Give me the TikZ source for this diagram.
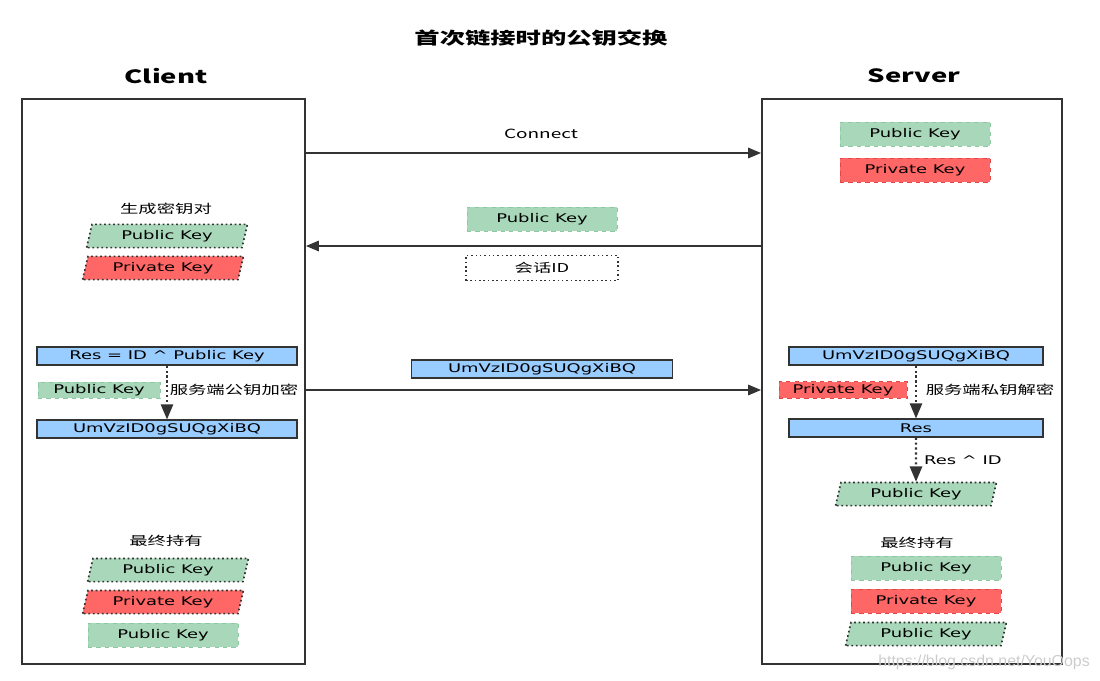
\documentclass[tikz,border=0pt]{standalone}
\usepackage{fontspec}
\setmainfont{DejaVu Sans}[FakeStretch=1.5]
\newfontfamily\cjk{Noto Sans CJK SC}[FakeStretch=1.5]
\newfontfamily\wmfont{Liberation Sans}
\usepackage{xcolor}
\usepackage{tikz}
\usetikzlibrary{shapes.geometric, arrows}

\definecolor{keygreen}{HTML}{A8D8B9}
\definecolor{keygreenline}{HTML}{8CC9A2}
\definecolor{keyred}{HTML}{FF6666}
\definecolor{keyredline}{HTML}{E04848}
\definecolor{resblue}{HTML}{99CCFF}
\definecolor{ink}{HTML}{333333}

\tikzset{
  keyfont/.style={font=\fontsize{8.5}{10}\selectfont, text=black},
  pubkey/.style={keyfont, draw=keygreenline, fill=keygreen, dashed, line width=0.6pt,
    minimum width=3.75cm, minimum height=0.6cm, inner sep=0pt},
  privkey/.style={pubkey, draw=keyredline, fill=keyred},
  keypar/.style={keyfont, trapezium, trapezium left angle=65, trapezium right angle=115,
    trapezium stretches body, draw=ink, dotted, line width=1.2pt,
    minimum width=4.02cm, minimum height=0.58cm, inner sep=0pt},
  resbox/.style={keyfont, draw=ink, fill=resblue, line width=1.2pt,
    minimum width=6.5cm, minimum height=0.44cm, inner sep=0pt},
  idbox/.style={draw=ink, dotted, line width=1.1pt, minimum width=3.8cm, minimum height=0.63cm},
  side/.style={draw=ink, line width=1.4pt},
  hdr/.style={font=\cjk\bfseries\fontsize{13}{15}\selectfont, text=black},
  lbl/.style={font=\cjk\fontsize{9}{11}\selectfont, text=black},
  cjklbl/.style={font=\cjk\fontsize{8.7}{10}\selectfont, text=black, inner sep=1pt},
  flow/.style={draw=ink, line width=1.1pt, -triangle 45},
  dotflow/.style={draw=ink, line width=1.5pt, dotted, -triangle 45}
}

\begin{document}
\begin{tikzpicture}[x=0.025cm, y=-0.025cm]
    \useasboundingbox (0,0) rectangle (1100,680);

    % titles
    \node[font=\cjk\bfseries\fontsize{12}{14}\selectfont] (T) at (541,38) {首次链接时的公钥交换};
    \node[hdr] (CT) at (166,76) {Client};
    \node[hdr] (ST) at (914,76) {Server};

    % the two sides
    \node[side, minimum width=7.075cm, minimum height=14.125cm] (C) at (163.5,381.5) {};
    \node[side, minimum width=7.5cm, minimum height=14.125cm] (S) at (912,381.5) {};

    % connect
    \node[pubkey] (SK1) at (915,134) {Public Key};
    \node[privkey] (SK2) at (915,170) {Private Key};
    \node[lbl] (L1) at (541,134) {Connect};
    \coordinate (c1) at (541,153);
    \draw[flow] (C.east |- c1) -- (S.west |- c1);

    % key pair on client
    \node[cjklbl] (G) at (166,209) {生成密钥对};
    \node[keypar, fill=keygreen] (CK1) at (167,236) {Public Key};
    \node[keypar, fill=keyred] (CK2) at (163,268) {Private Key};

    % server sends public key
    \node[pubkey] (MK) at (542,219) {Public Key};
    \coordinate (c2) at (541,246);
    \draw[flow] (S.west |- c2) -- (C.east |- c2);
    \node[idbox] (ID) at (542,268) {\cjk\fontsize{8.7}{10}\selectfont 会话ID};

    % client encrypts
    \node[resbox] (CR) at (167,356) {Res = ID \textasciicircum{} Public Key};
    \node[resbox] (CE) at (167,429) {UmVzID0gSUQgXiBQ};
    \draw[dotflow] (CR) -- (CE);
    \node[pubkey, minimum width=3.05cm, minimum height=0.4cm] (CK3) at (99,390) {Public Key};
    \node[cjklbl] (CL2) at (234,390) {服务端公钥加密};

    \node[resbox, minimum width=6.525cm] (ME) at (542,369) {UmVzID0gSUQgXiBQ};
    \coordinate (c3) at (541,390);
    \draw[flow] (C.east |- c3) -- (S.west |- c3);

    % server decrypts
    \node[resbox, minimum width=6.35cm] (SE) at (916,356) {UmVzID0gSUQgXiBQ};
    \node[resbox, minimum width=6.35cm] (SR) at (916,428) {Res};
    \draw[dotflow] (SE) -- (SR);
    \node[privkey, minimum width=3.2cm, minimum height=0.42cm] (SK3) at (843,390) {Private Key};
    \node[cjklbl] (SL2) at (990,390) {服务端私钥解密};
    \node[keypar, fill=keygreen] (SK4) at (916,494) {Public Key};
    \draw[dotflow] (SR) -- (SK4);
    \node[keyfont] (SL3) at (963,460) {Res \textasciicircum{} ID};

    % what each side holds
    \node[cjklbl] (F1) at (166,541) {最终持有};
    \node[keypar, fill=keygreen] (CF1) at (168,570) {Public Key};
    \node[keypar, fill=keyred] (CF2) at (163,602) {Private Key};
    \node[pubkey] (CF3) at (163,635) {Public Key};

    \node[cjklbl] (F2) at (917,543) {最终持有};
    \node[pubkey] (SF1) at (926,568) {Public Key};
    \node[privkey] (SF2) at (926,601) {Private Key};
    \node[keypar, fill=keygreen] (SF3) at (926,634) {Public Key};

    \node[font=\wmfont\fontsize{11.3}{13}\selectfont, text=gray!40] (W) at (984,662) {https://blog.csdn.net/YouOops};
\end{tikzpicture}
\end{document}
